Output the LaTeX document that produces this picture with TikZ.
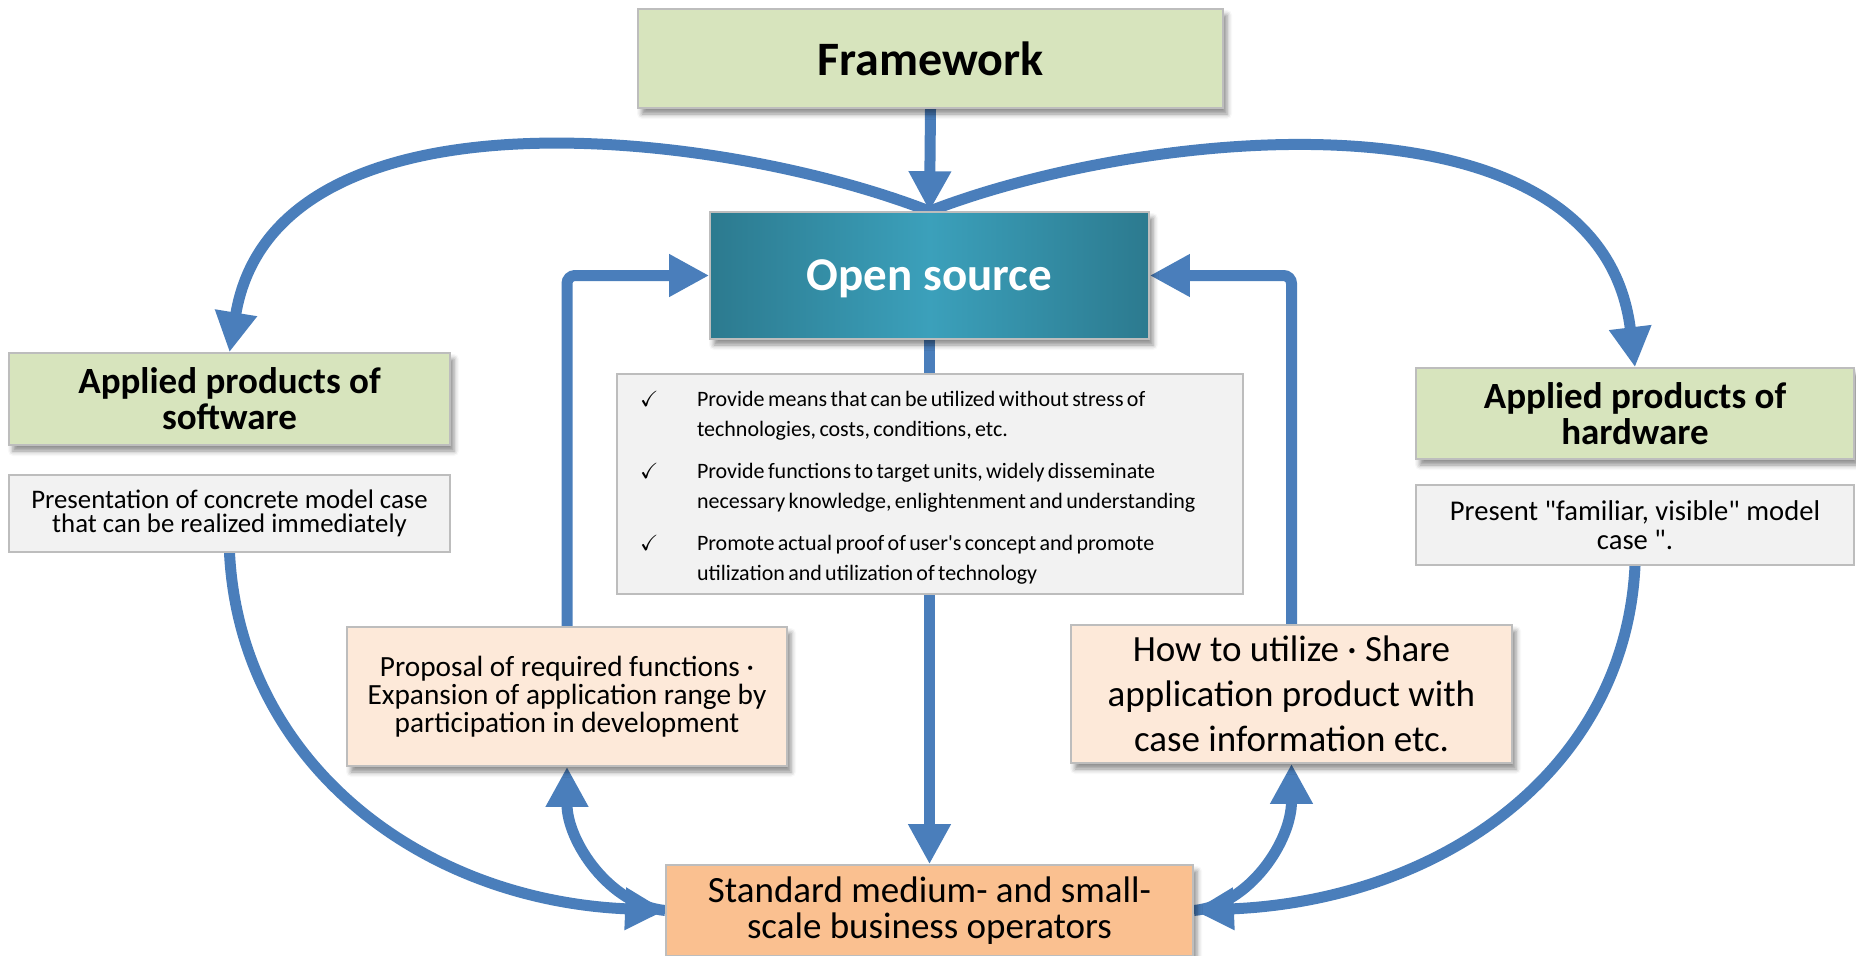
\documentclass[tikz,border=0pt]{standalone}
\usepackage{fontspec}
\setmainfont{Carlito}[Ligatures=TeXOff]
\usepackage{amssymb}
\usetikzlibrary{arrows.meta,shadows.blur,backgrounds}
\definecolor{arrowblue}{HTML}{4A7EBB}
\definecolor{boxborder}{HTML}{BDBDBD}
\definecolor{greenfill}{HTML}{D7E4BD}
\definecolor{greyfill}{HTML}{F2F2F2}
\definecolor{peachfill}{HTML}{FDE9D9}
\definecolor{orangefill}{HTML}{FAC090}
\definecolor{tealdark}{HTML}{2C7A8F}
\definecolor{teallight}{HTML}{3BA0BB}
\begin{document}
\begin{tikzpicture}[x=1pt,y=-1pt,
  box/.style={draw=boxborder, line width=1.6pt, inner sep=0pt, align=center,
    blur shadow={shadow xshift=4pt, shadow yshift=-6pt, shadow blur radius=5pt, shadow opacity=45}},
  flatbox/.style={draw=boxborder, line width=1.6pt, inner sep=0pt, align=center},
  headfont/.style={font=\fontsize{37}{36}\selectfont\bfseries},
  conn/.style={draw=arrowblue, line width=11pt, -{Triangle[length=40pt,width=40pt]}}
]
\useasboundingbox (0,0) rectangle (1856,956);

\node[box, fill=greenfill, minimum width=585pt, minimum height=99pt,
  font=\fontsize{48}{58}\selectfont\bfseries] (fw) at (930.5,58.5) {Framework};

\node[box, left color=tealdark, right color=tealdark, middle color=teallight,
  minimum width=439pt, minimum height=127pt, text=white, text depth=0pt,
  font=\fontsize{47}{56}\selectfont\bfseries] (os) at (929.5,275.5) {Open source};

\node[flatbox, fill=greyfill, minimum width=626pt, minimum height=220pt,
  text width=580pt, inner xsep=23pt, align=left] (bul) at (930,484) {%
  \fontsize{22}{30.5}\selectfont
  \begin{tabular}{@{}p{57pt}@{}l@{}}
  $\checkmark$ & \rule{0pt}{28.4pt}Provide means that can be utilized without stress of\\
   & technologies, costs, conditions, etc.\\[11pt]
  $\checkmark$ & Provide functions to target units, widely disseminate\\
   & necessary knowledge, enlightenment and understanding\\[11pt]
  $\checkmark$ & Promote actual proof of user's concept and promote\\
   & utilization and utilization of technology
  \end{tabular}};

\node[box, fill=greenfill, minimum width=441pt, minimum height=92pt, headfont]
  (sw) at (229.5,399) {Applied products of\\software};
\node[flatbox, fill=greyfill, minimum width=441pt, minimum height=77pt,
  font=\fontsize{26.8}{24.5}\selectfont]
  (swd) at (229.5,513.5) {Presentation of concrete model case\\that can be realized immediately};

\node[box, fill=greenfill, minimum width=438pt, minimum height=91pt, headfont]
  (hw) at (1635,413.5) {Applied products of\\hardware};
\node[flatbox, fill=greyfill, minimum width=438pt, minimum height=80pt,
  font=\fontsize{28.6}{29}\selectfont]
  (hwd) at (1635,525) {Present "familiar, visible" model\\case ".};

\node[box, fill=peachfill, minimum width=440pt, minimum height=139pt,
  font=\fontsize{29.3}{28}\selectfont]
  (prop) at (567,696.5) {Proposal of required functions ·\\Expansion of application range by\\participation in development};

\node[box, fill=peachfill, minimum width=441pt, minimum height=138pt,
  font=\fontsize{37}{45}\selectfont]
  (how) at (1291.5,694) {How to utilize · Share\\application product with\\case information etc.};

\node[box, fill=orangefill, minimum width=527pt, minimum height=91pt,
  font=\fontsize{37}{35.5}\selectfont]
  (std) at (929.5,910.5) {Standard medium- and small-\\scale business operators};

\begin{scope}[on background layer]
  \draw[conn] (fw.south) -- (os.north);
  \draw[conn] (os.north) .. controls +(-209.5,-82) and +(45,-273) .. (sw.north);
  \draw[conn] (os.north) .. controls +(210.5,-82) and +(-35,-288) .. (hw.north);
  \draw[conn, rounded corners=8pt] (prop.north) -- (prop.north |- os.west) -- (os.west);
  \draw[conn, rounded corners=8pt] (how.north) -- (how.north |- os.east) -- (os.east);
  \draw[conn] (os.south) -- (std.north);
  \draw[conn] (swd.south) .. controls +(10.5,208) and +(-246,-10.5) .. (std.west);
  \draw[conn] (hwd.south) .. controls +(-10,205) and +(247,-10.5) .. (std.east);
  \draw[conn] (std.west) .. controls +(-56,-5.5) and +(0,74) .. (prop.south);
  \draw[conn] (std.east) .. controls +(56,-5.5) and +(0,77) .. (how.south);
\end{scope}
\end{tikzpicture}
\end{document}
